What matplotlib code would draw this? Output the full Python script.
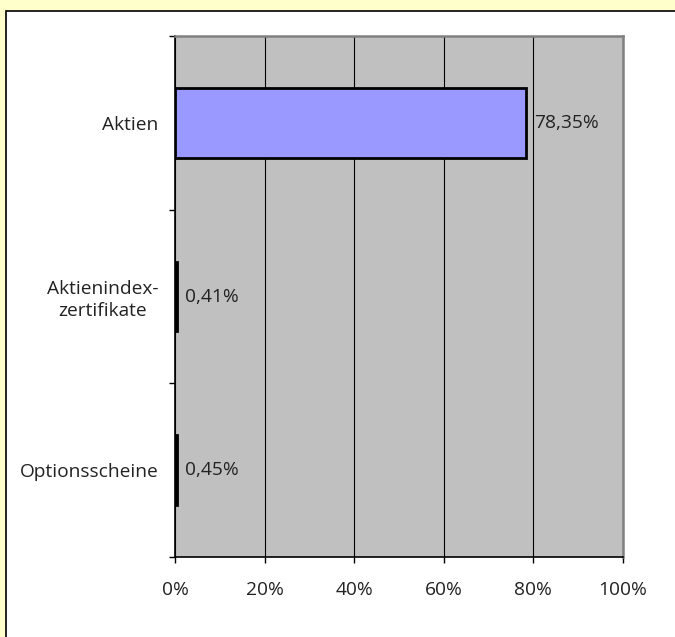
import matplotlib
matplotlib.use("Agg")
import matplotlib.pyplot as plt
from matplotlib.patches import Rectangle
from matplotlib.ticker import FixedLocator, FuncFormatter

categories = ["Aktien", "Aktienindex-\nzertifikate", "Optionsscheine"]
values = [78.35, 0.41, 0.45]
value_labels = ["78,35%", "0,41%", "0,45%"]
bar_colors = ["#9999FF", "#000000", "#000000"]
x_ticks = [0, 20, 40, 60, 80, 100]

plt.rcParams['font.family'] = ['Open Sans', 'DejaVu Sans']
FS = 13.8
TC = "#222222"
W, H = 675, 637
fig = plt.figure(figsize=(W / 100, H / 100), dpi=100, facecolor="#FFFFCC")

# white inner frame with black left/top border
fig.patches.append(Rectangle((6 / W, -0.05), 1.2, (H - 11) / H + 0.05,
                             transform=fig.transFigure, facecolor="white",
                             edgecolor="black", linewidth=1.2, zorder=-10))

ax = fig.add_axes([175 / W, (H - 557) / H, 448 / W, 521 / H])
ax.set_zorder(5)
ax.set_facecolor("#C0C0C0")

ypos = list(range(len(categories)))
ax.barh(ypos, values, height=0.4, color=bar_colors, edgecolor="black",
        linewidth=2, zorder=3)

for y, v, lab in zip(ypos, values, value_labels):
    ax.annotate(lab, xy=(v, y), xytext=(6, 0), textcoords="offset points",
                va="center", ha="left", fontsize=FS, color=TC)

ax.set_xlim(0, 100)
ax.set_ylim(2.5, -0.5)

ax.xaxis.set_major_locator(FixedLocator(x_ticks))
ax.xaxis.set_major_formatter(FuncFormatter(lambda v, p: f"{int(v)}%"))
ax.tick_params(axis="x", direction="out", length=4, width=1, pad=13.5,
               labelsize=FS, labelcolor=TC, color="black")

ax.yaxis.set_major_locator(FixedLocator([-0.5, 0.5, 1.5, 2.5]))
ax.yaxis.set_major_formatter(FuncFormatter(lambda v, p: ""))
ax.yaxis.set_minor_locator(FixedLocator(ypos))
ax.set_yticklabels(categories, minor=True)
for t in ax.get_yticklabels(minor=True):
    t.set_multialignment("center")
    t.set_linespacing(1.25)
ax.tick_params(axis="y", which="major", direction="out", length=4, width=1,
               color="black")
ax.tick_params(axis="y", which="minor", length=0, pad=12, labelsize=FS,
               labelcolor=TC)

ax.grid(axis="x", color="black", linewidth=0.8, zorder=1)
ax.set_axisbelow(True)

ax.spines["left"].set_color("black")
ax.spines["left"].set_linewidth(1.2)
ax.spines["bottom"].set_color("black")
ax.spines["bottom"].set_linewidth(1.2)
ax.spines["top"].set_color("#808080")
ax.spines["top"].set_linewidth(1.8)
ax.spines["right"].set_color("#808080")
ax.spines["right"].set_linewidth(1.8)

fig.savefig("out.png", dpi=100, facecolor=fig.get_facecolor())
